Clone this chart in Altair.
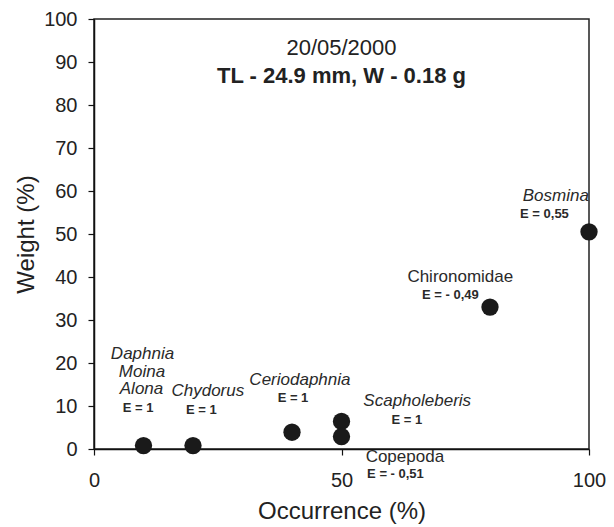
import altair as alt
import pandas as pd

# ---- data ----
species = ["Daphnia/Moina/Alona", "Chydorus", "Ceriodaphnia", "Scapholeberis",
           "Copepoda", "Chironomidae", "Bosmina"]
occurrence = [10, 20, 40, 50, 50, 80, 100]
weight = [0.8, 0.8, 3.9, 6.4, 2.9, 33.0, 50.5]

# annotation texts and their anchor positions (data units)
name_text = ["Daphnia", "Moina", "Alona", "Chydorus", "Ceriodaphnia",
             "Scapholeberis", "Bosmina", "Chironomidae", "Copepoda"]
name_italic = [True, True, True, True, True, True, True, False, False]
name_x = [9.8, 9.7, 9.6, 23.0, 41.6, 65.3, 93.3, 74.0, 62.8]
name_y = [22.2, 18.0, 14.0, 13.6, 16.1, 11.1, 58.9, 40.0, -1.9]

e_text = ["E = 1", "E = 1", "E = 1", "E = 1", "E = 0,55", "E = - 0,49", "E = - 0,51"]
e_x = [8.9, 21.7, 40.2, 63.2, 91.0, 72.0, 60.9]
e_y = [9.6, 9.1, 11.9, 6.8, 54.7, 35.9, -5.7]

y_ticks = list(range(0, 101, 10))
x_ticks = [0, 50, 100]

FONT = "Liberation Sans"
NARROW = "'Liberation Sans Narrow', 'Liberation Sans', sans-serif"

pts = pd.DataFrame({"species": species, "occ": occurrence, "w": weight})
names = pd.DataFrame({"t": name_text, "it": name_italic, "x": name_x, "y": name_y})
elab = pd.DataFrame({"t": e_text, "x": e_x, "y": e_y})

xs = alt.Scale(domain=[0, 100], nice=False)
ys = alt.Scale(domain=[0, 100], nice=False)

points = alt.Chart(pts).mark_circle(size=300, color="#1a1a1a", opacity=1).encode(
    x=alt.X("occ:Q", scale=xs, title="Occurrence (%)",
            axis=alt.Axis(values=x_ticks, labelPadding=15, titlePadding=9,
                          labelFlush=False)),
    y=alt.Y("w:Q", scale=ys, title="Weight (%)",
            axis=alt.Axis(values=y_ticks, labelPadding=11, labelFlush=False,
                          titleX=-61, titleY=215, titleAngle=270,
                          titleAlign="center", titleBaseline="alphabetic")),
)

italic = alt.Chart(names[names.it]).mark_text(
    font=FONT, fontSize=17, fontStyle="italic", color="#2a2a2a",
    align="center", baseline="middle").encode(
    x=alt.X("x:Q", scale=xs), y=alt.Y("y:Q", scale=ys), text="t:N")

normal = alt.Chart(names[~names.it]).mark_text(
    font=FONT, fontSize=17, color="#2a2a2a",
    align="center", baseline="middle").encode(
    x=alt.X("x:Q", scale=xs), y=alt.Y("y:Q", scale=ys), text="t:N")

evals = alt.Chart(elab).mark_text(
    font=NARROW, fontSize=13, fontWeight="bold", color="#2a2a2a",
    align="center", baseline="middle").encode(
    x=alt.X("x:Q", scale=xs), y=alt.Y("y:Q", scale=ys), text="t:N")

chart = alt.layer(points, italic, normal, evals).properties(
    width=495, height=430,
    padding={"left": 94, "top": 19, "right": 25, "bottom": 78},
    autosize=alt.AutoSizeParams(type="none"),
    title=alt.Title(text="20/05/2000", subtitle="TL - 24.9 mm, W - 0.18 g",
                    anchor="middle", offset=-79, font=FONT, fontSize=22,
                    fontWeight="normal", color="#222",
                    subtitleFont=FONT, subtitleFontSize=22,
                    subtitleFontWeight="bold", subtitleColor="#222",
                    subtitlePadding=6),
).configure_view(
    stroke="#222", strokeWidth=1.5
).configure_axis(
    grid=False, domainColor="#111", domainWidth=1.5, tickColor="#111",
    tickWidth=1.2, tickSize=6, labelFont=FONT, labelFontSize=20,
    labelColor="#222", titleFont=FONT, titleFontSize=24,
    titleFontWeight="normal", titleColor="#222"
)

chart.save("out.html", embed_options={"renderer": "svg", "actions": False})
